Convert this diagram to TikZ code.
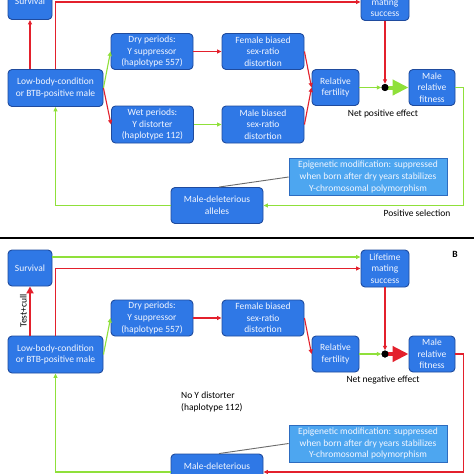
\documentclass[tikz,border=0pt]{standalone}
\usepackage{fontspec}
\setmainfont{Carlito}
\usetikzlibrary{arrows.meta,calc}
\definecolor{boxfill}{HTML}{2F78E6}
\definecolor{boxborder}{HTML}{1F4B9E}
\definecolor{boxtext}{HTML}{F2F6FF}
\definecolor{epifill}{HTML}{4DA6F0}
\definecolor{epiborder}{HTML}{2D6CC0}
\definecolor{cred}{HTML}{E3202C}
\definecolor{cgreen}{HTML}{8FE03A}
\definecolor{cgray}{HTML}{6B6B6B}
\newcommand\fs{\fontsize{9.5}{11.7}\selectfont}
\tikzset{
  bx/.style 2 args={draw=boxborder, fill=boxfill, rounded corners=4pt, line width=0.9pt,
    text=boxtext, align=center, inner sep=1pt, font=\fs, minimum width=#1pt, minimum height=#2pt},
  epi/.style={draw=epiborder, fill=epifill, line width=0.8pt, text=boxtext, align=center,
    inner sep=1pt, font=\fs, minimum width=158pt, minimum height=37pt},
  lbl/.style={text=black, font=\fs, align=center, inner sep=0pt},
  rl/.style={draw=cred, line width=1.1pt},
  gl/.style={draw=cgreen, line width=1.1pt},
  ra/.style={rl, -{Triangle[length=4.5pt,width=4pt]}},
  ga/.style={gl, -{Triangle[length=4.5pt,width=4pt]}},
  bigarrow/.style={line width=4pt, -{Triangle[length=16pt,width=15pt]}},
  jdot/.style={circle, fill=black, inner sep=0pt, minimum size=7pt},
  divider/.style={draw=black, line width=1.3pt},
  grayline/.style={draw=cgray, line width=0.9pt}
}
\begin{document}
\begin{tikzpicture}[x=1pt,y=-1pt]
\useasboundingbox (0,0) rectangle (474,474);
\clip (0,0) rectangle (474,474);
\fill[white] (0,0) rectangle (474,474);

% divider between panels
\coordinate (dl) at (0,238);
\coordinate (dr) at (474,238);
\draw[divider] (dl) -- (dr);

% ---------------- Panel A ----------------
\begin{scope}[yshift=266.5pt]
\node[bx={44}{36}] (asurv) at (30,268) {Survival};
\node[bx={48}{37}] (alife) at (385,268.5) {Lifetime\\mating\\success};
\node[bx={95}{37}] (alow) at (55.5,354.5) {Low-body-condition\\or BTB-positive male};
\node[bx={82}{36}] (adry) at (152,318) {Dry periods:\\Y suppressor\\(haplotype 557)};
\node[bx={82}{37}] (awet) at (152.5,391) {Wet periods:\\Y distorter\\(haplotype 112)};
\node[bx={82}{36}] (afem) at (263,318) {Female biased\\sex-ratio\\distortion};
\node[bx={82}{37}] (amal) at (263,391) {Male biased\\sex-ratio\\distortion};
\node[bx={47}{36}] (afert) at (335.5,354) {Relative\\fertility};
\node[bx={46}{36}] (afit) at (432,354) {Male\\relative\\fitness};
\node[jdot] (adot) at (385,354) {};
\node[epi] (aepi) at (368,443.5) {Epigenetic modification: suppressed\\when born after dry years stabilizes\\Y-chromosomal polymorphism};
\node[bx={92}{36}] (adel) at (217,472) {Male-deleterious\\alleles};
\node[lbl] (anet) at (383,380.5) {Net positive effect};
\node[lbl] (apos) at (417,479.5) {Positive selection};

\coordinate (ag1) at ([yshift=11pt]asurv.east);
\draw[ga] (ag1) -- (ag1 -| alife.west);
\draw[ra] (alow.north -| asurv.south) -- (asurv.south);
\draw[ra] (alow.north) |- (alife.west);
\draw[ga] (alow.east) -- (adry.west);
\draw[ra] (alow.east) -- (awet.west);
\draw[ra] (adry.east) -- (afem.west);
\draw[ga] (awet.east) -- (amal.west);
\draw[ra] (afem.east) -- (afert.west);
\draw[ra] (amal.east) -- (afert.west);
\draw[ga] (afert.east) -- (adot.west);
\draw[ra] (alife.south) -- (adot.north);
\draw[draw=cgreen, bigarrow, fill=cgreen] (adot.center) -- (afit.west);
\node[jdot] at (adot) {};
\coordinate (ac1) at ([xshift=8pt]afit.east);
\draw[ga] (afit.east) -- (ac1) |- (adel.east);
\draw[ga] (adel.west) -| (alow.south);
\draw[grayline] (aepi.west) -- ([xshift=2pt]adel.north);
\end{scope}

% ---------------- Panel B ----------------
\node[bx={44}{36}] (bsurv) at (30,268) {Survival};
\node[bx={48}{37}] (blife) at (385,268.5) {Lifetime\\mating\\success};
\node[bx={95}{37}] (blow) at (55.5,354.5) {Low-body-condition\\or BTB-positive male};
\node[bx={82}{36}] (bdry) at (152,318) {Dry periods:\\Y suppressor\\(haplotype 557)};
\node[bx={82}{36}] (bfem) at (263,318) {Female biased\\sex-ratio\\distortion};
\node[bx={47}{36}] (bfert) at (335.5,354) {Relative\\fertility};
\node[bx={46}{36}] (bfit) at (432,354) {Male\\relative\\fitness};
\node[jdot] (bdot) at (385,354) {};
\node[epi] (bepi) at (368,443.5) {Epigenetic modification: suppressed\\when born after dry years stabilizes\\Y-chromosomal polymorphism};
\node[bx={92}{36}] (bdel) at (217,472) {Male-deleterious\\alleles};
\node[lbl] (bnet) at (383,380.5) {Net negative effect};
\node[lbl, anchor=west, align=left] (bnoy) at (181,402) {No Y distorter\\(haplotype 112)};
\node[lbl, font=\bfseries\fs] (blabel) at (455,254) {B};

\coordinate (bg1) at ([yshift=11pt]bsurv.east);
\draw[ga] (bg1) -- (bg1 -| blife.west);
\draw[draw=cred, line width=2.4pt, -{Triangle[length=7pt,width=7pt]}] (blow.north -| bsurv.south) -- node[lbl, rotate=90, above=2pt] (btest) {Test+cull} (bsurv.south);
\draw[ra] (blow.north) |- (blife.west);
\draw[ga] (blow.east) -- (bdry.west);
\draw[ra] (bdry.east) -- (bfem.west);
\draw[ra] (bfem.east) -- (bfert.west);
\draw[ga] (bfert.east) -- (bdot.west);
\draw[ra] (blife.south) -- (bdot.north);
\draw[draw=cred, bigarrow, fill=cred] (bdot.center) -- (bfit.west);
\node[jdot] at (bdot) {};
\coordinate (bc1) at ([xshift=8pt]bfit.east);
\draw[ra] (bfit.east) -- (bc1) |- (bdel.east);
\draw[ga] (bdel.west) -| (blow.south);
\draw[grayline] (bepi.west) -- ([xshift=2pt]bdel.north);
\end{tikzpicture}
\end{document}
